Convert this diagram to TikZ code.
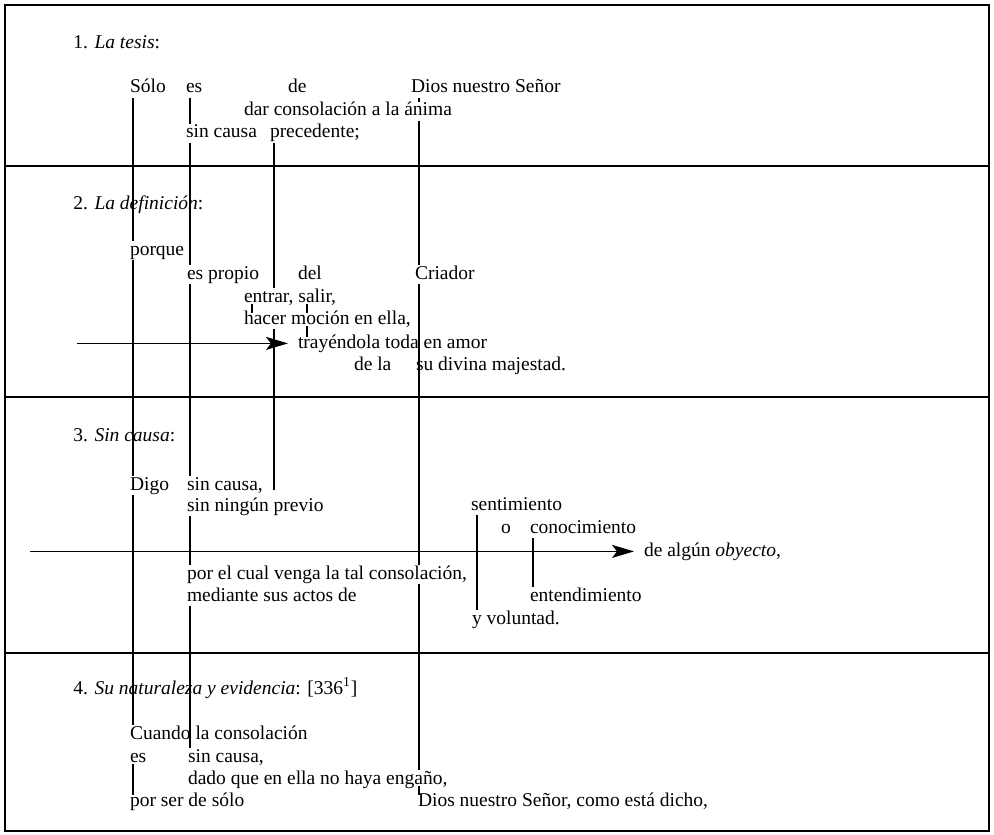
\documentclass[tikz,border=0pt]{standalone}
\usepackage{fontspec}
\setmainfont{Liberation Serif}
\usetikzlibrary{arrows.meta}
\begin{document}
\begin{tikzpicture}[x=0.5pt,y=-0.5pt,
  txt/.style={anchor=base west, inner sep=0.5pt, outer sep=0pt, text height=6.6pt, text depth=2pt, font=\fontsize{9.75pt}{11pt}\selectfont},
  lbl/.style={anchor=base west, inner sep=0pt, font=\fontsize{9.75pt}{11pt}\selectfont},
  vl/.style={line width=0.6pt},
  tick/.style={line width=0.6pt, shorten <=-1.5pt, shorten >=-1.5pt},
  arr/.style={line width=0.7pt, -{Stealth[length=11pt,width=6.5pt,inset=2.5pt]}, shorten >=4.5pt},
  frame/.style={line width=0.75pt}]
\useasboundingbox (0,0) rectangle (994,834);
\fill[white] (0,0) rectangle (994,834);
% frame and section dividers
\draw[frame] (5,5) rectangle (989,831);
\draw[frame] (5,166) -- (989,166);
\draw[frame] (5,397) -- (989,397);
\draw[frame] (5,653) -- (989,653);
% columns
\coordinate (cA) at (133,0);
\coordinate (cB) at (190,0);
\coordinate (cC) at (274,0);
\coordinate (cD) at (419,0);
\coordinate (cE) at (477,0);
\coordinate (cF) at (533,0);
\coordinate (t1) at (252,0);
\coordinate (t2) at (307,0);
\coordinate (a2) at (77,0);
\coordinate (a3) at (30,0);
% section 1
\node[lbl] (h1) at (73,49) {1. \textit{La tesis}:};
\node[txt] (solo) at (129,93) {Sólo};
\node[txt] (es1) at (185,93) {es};
\node[txt] (de1) at (287,93) {de};
\node[txt] (dios1) at (410,93) {Dios nuestro Señor};
\node[txt] (dar) at (243,116) {dar consolación a la ánima};
\node[txt] (sc1) at (185,138) {sin causa};
\node[txt] (prec) at (269,138) {precedente;};
% section 2
\node[lbl] (h2) at (73,209) {2. \textit{La definición}:};
\node[txt] (porque) at (129,255) {porque};
\node[txt] (espropio) at (186,279) {es propio};
\node[txt] (del) at (297,279) {del};
\node[txt] (criador) at (414,279) {Criador};
\node[txt] (entrar) at (243,302) {entrar, salir,};
\node[txt] (hacer) at (243,324) {hacer moción en ella,};
\node[txt] (tray) at (297,348) {trayéndola toda en amor};
\node[txt] (dela) at (353,370) {de la};
\node[txt] (sudiv) at (415,370) {su divina majestad.};
% section 3
\node[lbl] (h3) at (73,441) {3. \textit{Sin causa}:};
\node[txt] (digo) at (129,490) {Digo};
\node[txt] (sc3) at (186,490) {sin causa,};
\node[txt] (previo) at (186,511) {sin ningún previo};
\node[txt] (sent) at (470,510) {sentimiento};
\node[txt] (o) at (500,533) {o};
\node[txt] (conoc) at (529,533) {conocimiento};
\node[txt] (obj) at (643,556) {de algún \textit{obyecto},};
\node[txt] (cual) at (186,579) {por el cual venga la tal consolación,};
\node[txt] (mediante) at (186,601) {mediante sus actos de};
\node[txt] (entend) at (529,601) {entendimiento};
\node[txt] (volunt) at (471,624) {y voluntad.};
% section 4
\node[lbl] (h4) at (73,694) {4. \textit{Su naturaleza y evidencia}: [336\textsuperscript{1}]};
\node[txt] (cuando) at (129,739) {Cuando la consolación};
\node[txt] (es4) at (129,762) {es};
\node[txt] (sc4) at (187,762) {sin causa,};
\node[txt] (dado) at (187,784) {dado que en ella no haya engaño,};
\node[txt] (porser) at (129,806) {por ser de sólo};
\node[txt] (dios4) at (417,806) {Dios nuestro Señor, como está dicho,};
% column A
\draw[vl] (solo.south -| cA) -- (porque.north -| cA);
\draw[vl] (porque.south -| cA) -- (digo.north -| cA);
\draw[vl] (digo.south -| cA) -- (cuando.north -| cA);
\draw[tick] (es4.south -| cA) -- (porser.north -| cA);
% column B
\draw[vl] (es1.south -| cB) -- (sc1.north -| cB);
\draw[vl] (sc1.south -| cB) -- (espropio.north -| cB);
\draw[vl] (espropio.south -| cB) -- (sc3.north -| cB);
\draw[vl] (previo.south -| cB) -- (cual.north -| cB);
\draw[vl] (mediante.south -| cB) -- (sc4.north -| cB);
% column C
\draw[vl] (prec.south -| cC) -- (entrar.north -| cC);
\draw[vl] (hacer.south -| cC) -- (sc3.base -| cC);
% column D
\draw[vl] (dios1.south -| cD) -- (dar.north -| cD);
\draw[vl] (dar.south -| cD) -- (criador.north -| cD);
\draw[vl] (criador.south -| cD) -- (cual.north -| cD);
\draw[vl] (cual.south -| cD) -- (dado.north -| cD);
\draw[tick] (dado.south -| cD) -- (dios4.north -| cD);
% columns E, F
\draw[vl] (sent.south -| cE) -- (volunt.north -| cE);
\draw[vl] (conoc.south -| cF) -- (entend.north -| cF);
% small ticks in section 2
\draw[tick] (entrar.south -| t1) -- (hacer.north -| t1);
\draw[tick] (entrar.south -| t2) -- (hacer.north -| t2);
\draw[tick] (hacer.south -| t2) -- (tray.north -| t2);
% arrows
\draw[arr] (tray.west -| a2) -- (tray.west);
\draw[arr] (obj.west -| a3) -- (obj.west);
\end{tikzpicture}
\end{document}
